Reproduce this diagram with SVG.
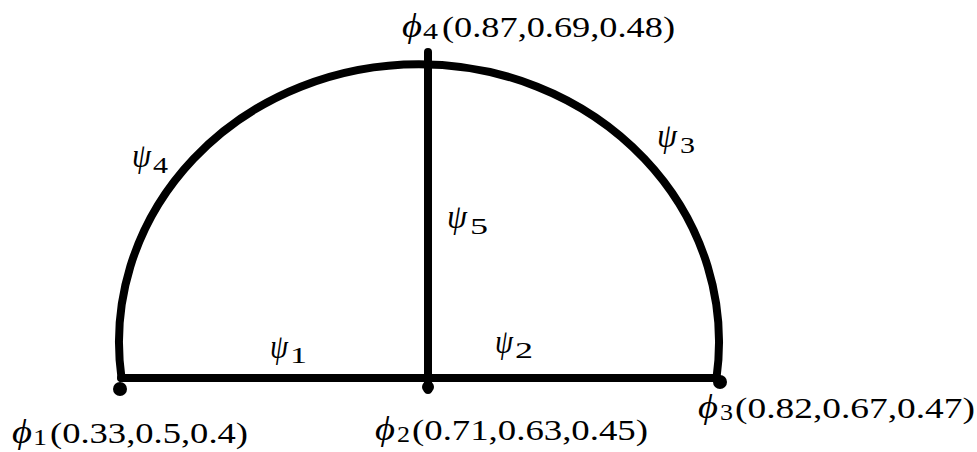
<svg xmlns="http://www.w3.org/2000/svg" width="977" height="452" viewBox="0 0 977 452">
<style>
.edge{fill:none;stroke:#000;stroke-width:8;stroke-linecap:round;stroke-linejoin:round}
.dot{fill:#000}
.t{font-family:"Liberation Serif","DejaVu Serif",serif;font-size:29px;fill:#000}
.g{font-family:"Liberation Serif","DejaVu Serif",serif;font-size:34px;font-style:italic;fill:#000}
.s{font-family:"Liberation Serif","DejaVu Serif",serif;font-size:23px;fill:#000}
</style>
<rect width="977" height="452" fill="#fff"/>
<g id="connectors">
<path id="psi4-psi3" class="edge" d="M121.5,378 A300,278 0 1 1 716.5,378"/>
<line id="psi1" class="edge" x1="121" y1="378" x2="428" y2="378"/>
<line id="psi2" class="edge" x1="428" y1="378" x2="717" y2="378"/>
<line id="psi5" class="edge" x1="428" y1="52" x2="428" y2="390"/>
<g id="edge-labels">
<text class="g" x="270" y="358" textLength="18" lengthAdjust="spacingAndGlyphs">ψ</text><text class="s" x="290" y="363" textLength="17" lengthAdjust="spacingAndGlyphs">1</text>
<text class="g" x="495" y="353" textLength="18" lengthAdjust="spacingAndGlyphs">ψ</text><text class="s" x="515" y="358" textLength="18" lengthAdjust="spacingAndGlyphs">2</text>
<text class="g" x="657" y="147" textLength="20" lengthAdjust="spacingAndGlyphs">ψ</text><text class="s" x="680" y="153" textLength="15" lengthAdjust="spacingAndGlyphs">3</text>
<text class="g" x="132" y="167" textLength="19" lengthAdjust="spacingAndGlyphs">ψ</text><text class="s" x="153" y="173" textLength="15" lengthAdjust="spacingAndGlyphs">4</text>
<text class="g" x="447" y="228" textLength="20" lengthAdjust="spacingAndGlyphs">ψ</text><text class="s" x="470" y="234" textLength="18" lengthAdjust="spacingAndGlyphs">5</text>
</g>
</g>
<g id="phi1">
<circle class="dot" cx="120" cy="389" r="7"/>
<text class="g" x="12" y="443" textLength="20" lengthAdjust="spacingAndGlyphs">ϕ</text><text class="s" x="33" y="445" textLength="14" lengthAdjust="spacingAndGlyphs">1</text>
<text class="t" x="50" y="443" textLength="198" lengthAdjust="spacingAndGlyphs">(0.33,0.5,0.4)</text>
</g>
<g id="phi2">
<circle class="dot" cx="428" cy="387" r="6"/>
<text class="g" x="375" y="440" textLength="20" lengthAdjust="spacingAndGlyphs">ϕ</text><text class="s" x="397" y="442" textLength="13" lengthAdjust="spacingAndGlyphs">2</text>
<text class="t" x="412" y="440" textLength="236" lengthAdjust="spacingAndGlyphs">(0.71,0.63,0.45)</text>
</g>
<g id="phi3">
<circle class="dot" cx="720" cy="382" r="7"/>
<text class="g" x="698" y="418" textLength="20" lengthAdjust="spacingAndGlyphs">ϕ</text><text class="s" x="720" y="420" textLength="13" lengthAdjust="spacingAndGlyphs">3</text>
<text class="t" x="735" y="418" textLength="240" lengthAdjust="spacingAndGlyphs">(0.82,0.67,0.47)</text>
</g>
<g id="phi4">
<text class="g" x="402" y="37" textLength="20" lengthAdjust="spacingAndGlyphs">ϕ</text><text class="s" x="423" y="39" textLength="15" lengthAdjust="spacingAndGlyphs">4</text>
<text class="t" x="442" y="37" textLength="233" lengthAdjust="spacingAndGlyphs">(0.87,0.69,0.48)</text>
</g>
</svg>
